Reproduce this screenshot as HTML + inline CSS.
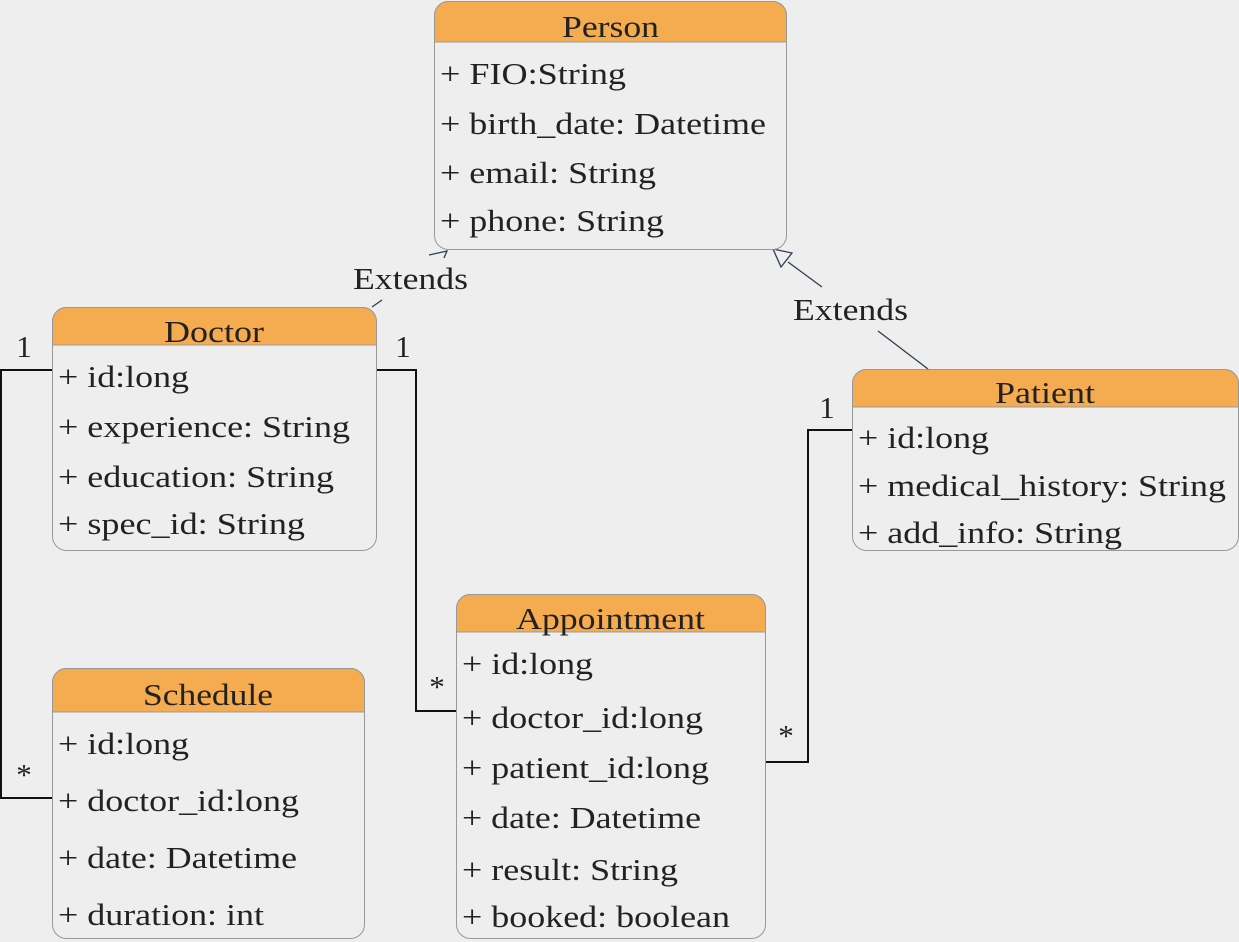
<!DOCTYPE html>
<html><head><meta charset="utf-8"><style>
html,body{margin:0;padding:0;background:#eeeeee;}
svg{display:block}
text{font-family:"Liberation Serif","DejaVu Serif","Times New Roman",serif;font-size:31px;fill:#222;}
.h{text-anchor:middle}
</style></head><body>
<svg width="1239" height="942" xmlns="http://www.w3.org/2000/svg">
<rect width="1239" height="942" fill="#eeeeee"/>
<g fill="none" stroke="#111" stroke-width="2">
<polyline points="52,370 1,370 1,798 52,798"/>
<polyline points="376,370 416,370 416,711 456,711"/>
<polyline points="852,430 808,430 808,762 765,762"/>
</g>
<g stroke="#2c3e50" stroke-width="1.3" fill="none">
<line x1="372" y1="307" x2="382" y2="300"/>
<polyline points="429,255 447,251 444,258"/>
<line x1="928" y1="369" x2="878" y2="331"/>
<line x1="822" y1="287" x2="788" y2="262"/>
<polygon points="773,249 792,253 781,267" fill="#eeeeee"/>
</g>
<text x="353" y="289" textLength="115" lengthAdjust="spacingAndGlyphs">Extends</text>
<text x="793" y="320" textLength="115" lengthAdjust="spacingAndGlyphs">Extends</text>
<text x="24" y="357" class="h">1</text>
<text x="24" y="785" class="h">*</text>
<text x="403" y="357" class="h">1</text>
<text x="437" y="697" class="h">*</text>
<text x="827" y="418" class="h">1</text>
<text x="786" y="746" class="h">*</text>

<!-- Person -->
<g>
<rect x="434.5" y="1.5" width="352" height="248" rx="14" fill="#eeeeee" stroke="#999"/>
<path d="M434.5,42 V15.5 A14,14 0 0 1 448.5,1.5 H772.5 A14,14 0 0 1 786.5,15.5 V42 Z" fill="#f5ab4f" stroke="#999"/>
<text x="562" y="37" textLength="97" lengthAdjust="spacingAndGlyphs">Person</text>
<text x="440" y="84" textLength="186" lengthAdjust="spacingAndGlyphs">+ FIO:String</text>
<text x="440" y="134" textLength="326" lengthAdjust="spacingAndGlyphs">+ birth_date: Datetime</text>
<text x="440" y="183" textLength="216" lengthAdjust="spacingAndGlyphs">+ email: String</text>
<text x="440" y="231" textLength="224" lengthAdjust="spacingAndGlyphs">+ phone: String</text>
</g>
<!-- Doctor -->
<g>
<rect x="52.5" y="307.5" width="324" height="243" rx="14" fill="#eeeeee" stroke="#999"/>
<path d="M52.5,345 V321.5 A14,14 0 0 1 66.5,307.5 H362.5 A14,14 0 0 1 376.5,321.5 V345 Z" fill="#f5ab4f" stroke="#999"/>
<text x="164" y="342" textLength="100" lengthAdjust="spacingAndGlyphs">Doctor</text>
<text x="58" y="387" textLength="131" lengthAdjust="spacingAndGlyphs">+ id:long</text>
<text x="58" y="437" textLength="292" lengthAdjust="spacingAndGlyphs">+ experience: String</text>
<text x="58" y="487" textLength="276" lengthAdjust="spacingAndGlyphs">+ education: String</text>
<text x="58" y="534" textLength="247" lengthAdjust="spacingAndGlyphs">+ spec_id: String</text>
</g>
<!-- Patient -->
<g>
<rect x="852.5" y="369.5" width="386" height="181" rx="14" fill="#eeeeee" stroke="#999"/>
<path d="M852.5,407 V383.5 A14,14 0 0 1 866.5,369.5 H1224.5 A14,14 0 0 1 1238.5,383.5 V407 Z" fill="#f5ab4f" stroke="#999"/>
<text x="995" y="403" textLength="100" lengthAdjust="spacingAndGlyphs">Patient</text>
<text x="858" y="448" textLength="131" lengthAdjust="spacingAndGlyphs">+ id:long</text>
<text x="858" y="496" textLength="368" lengthAdjust="spacingAndGlyphs">+ medical_history: String</text>
<text x="858" y="543" textLength="264" lengthAdjust="spacingAndGlyphs">+ add_info: String</text>
</g>
<!-- Schedule -->
<g>
<rect x="52.5" y="668.5" width="312" height="270" rx="14" fill="#eeeeee" stroke="#999"/>
<path d="M52.5,712 V682.5 A14,14 0 0 1 66.5,668.5 H350.5 A14,14 0 0 1 364.5,682.5 V712 Z" fill="#f5ab4f" stroke="#999"/>
<text x="143" y="705" textLength="130" lengthAdjust="spacingAndGlyphs">Schedule</text>
<text x="58" y="754" textLength="131" lengthAdjust="spacingAndGlyphs">+ id:long</text>
<text x="58" y="811" textLength="241" lengthAdjust="spacingAndGlyphs">+ doctor_id:long</text>
<text x="58" y="868" textLength="239" lengthAdjust="spacingAndGlyphs">+ date: Datetime</text>
<text x="58" y="925" textLength="206" lengthAdjust="spacingAndGlyphs">+ duration: int</text>
</g>
<!-- Appointment -->
<g>
<rect x="456.5" y="594.5" width="309" height="344" rx="14" fill="#eeeeee" stroke="#999"/>
<path d="M456.5,632 V608.5 A14,14 0 0 1 470.5,594.5 H751.5 A14,14 0 0 1 765.5,608.5 V632 Z" fill="#f5ab4f" stroke="#999"/>
<text x="516" y="629" textLength="189" lengthAdjust="spacingAndGlyphs">Appointment</text>
<text x="462" y="674" textLength="131" lengthAdjust="spacingAndGlyphs">+ id:long</text>
<text x="462" y="728" textLength="241" lengthAdjust="spacingAndGlyphs">+ doctor_id:long</text>
<text x="462" y="778" textLength="247" lengthAdjust="spacingAndGlyphs">+ patient_id:long</text>
<text x="462" y="828" textLength="239" lengthAdjust="spacingAndGlyphs">+ date: Datetime</text>
<text x="462" y="880" textLength="216" lengthAdjust="spacingAndGlyphs">+ result: String</text>
<text x="462" y="927" textLength="268" lengthAdjust="spacingAndGlyphs">+ booked: boolean</text>
</g>
</svg>
</body></html>
